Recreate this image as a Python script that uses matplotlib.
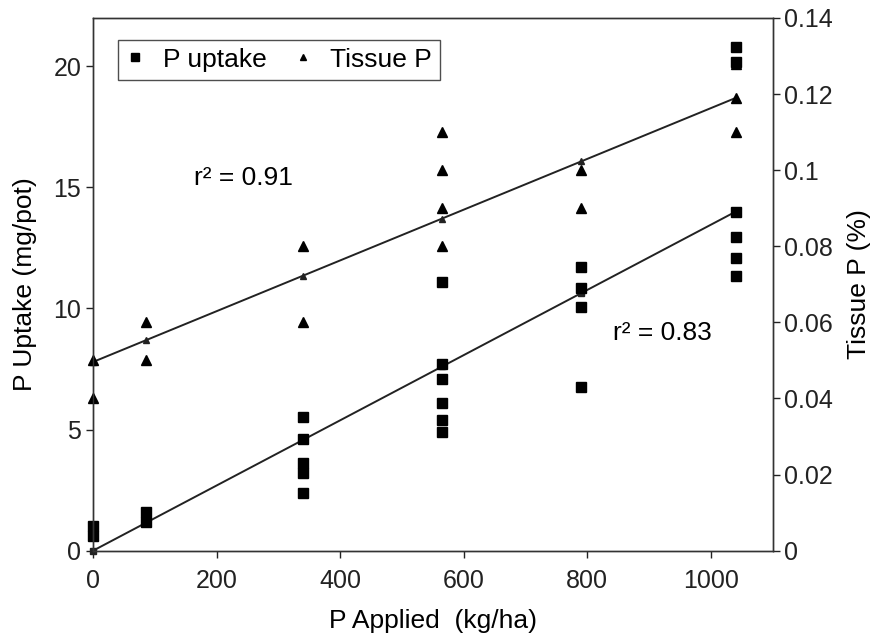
import numpy as np
import matplotlib.pyplot as plt

plt.rcParams['font.family'] = ['Liberation Sans', 'DejaVu Sans']

# P uptake (mg/pot) vs P applied (kg/ha)
uptake_x = [0, 0, 85, 85,
            340, 340, 340, 340, 340,
            565, 565, 565, 565, 565, 565,
            790, 790, 790, 790,
            1040, 1040, 1040, 1040, 1040, 1040]
uptake_y = [1.0, 0.6, 1.6, 1.2,
            5.5, 4.6, 3.6, 3.2, 2.4,
            11.1, 7.7, 7.1, 6.1, 5.4, 4.9,
            11.7, 10.85, 10.05, 6.75,
            20.8, 20.2, 14.0, 12.95, 12.1, 11.35]

# Tissue P (%) vs P applied (kg/ha)
tissue_x = [0, 0, 85, 85,
            340, 340,
            565, 565, 565, 565,
            790, 790,
            1040, 1040, 1040]
tissue_y = [0.05, 0.04, 0.06, 0.05,
            0.08, 0.06,
            0.11, 0.10, 0.09, 0.08,
            0.10, 0.09,
            0.128, 0.119, 0.11]

# regression lines (slope, intercept)
uptake_fit = (0.01346, 0.0)
tissue_fit = (6.67e-5, 0.0496)
fit_x = np.array([0, 85, 340, 565, 790, 1040])

fig = plt.figure(figsize=(8.79, 6.41), dpi=100)
ax = fig.add_axes([0.106, 0.141, 0.773, 0.831])
ax2 = ax.twinx()

tick_fs = 18
lab_fs = 19
ax.plot(fit_x, uptake_fit[0] * fit_x + uptake_fit[1], color='#222222', lw=1.4,
        marker='s', ms=4, zorder=2, clip_on=False)
ax2.plot(fit_x, tissue_fit[0] * fit_x + tissue_fit[1], color='#222222', lw=1.4,
         marker='^', ms=4, zorder=2, clip_on=False)

sq, = ax.plot(uptake_x, uptake_y, 's', color='black', ms=7, ls='none',
              label='P uptake', clip_on=False)
tr, = ax2.plot(tissue_x, tissue_y, '^', color='black', ms=6.5, ls='none',
               label='Tissue P', clip_on=False)

ax.set_xlim(0, 1100)
ax.set_ylim(0, 22)
ax2.set_ylim(0, 0.14)
ax.set_xticks([0, 200, 400, 600, 800, 1000])
ax.set_yticks([0, 5, 10, 15, 20])
ax2.set_yticks([0, 0.02, 0.04, 0.06, 0.08, 0.1, 0.12, 0.14])
ax2.set_yticklabels(['0', '0.02', '0.04', '0.06', '0.08', '0.1', '0.12', '0.14'])

for a in (ax, ax2):
    a.tick_params(direction='out', length=5, width=1, labelsize=tick_fs, colors='#222222')
    for s in a.spines.values():
        s.set_color('#333333')
        s.set_linewidth(1.0)
ax.tick_params(axis='x', pad=8)

ax.set_xlabel('P Applied  (kg/ha)', fontsize=lab_fs, labelpad=12)
ax.set_ylabel('P Uptake (mg/pot)', fontsize=lab_fs, labelpad=12)
ax2.set_ylabel('Tissue P (%)', fontsize=lab_fs, labelpad=10)

ax.text(243, 15.4, 'r² = 0.91', fontsize=lab_fs, ha='center', va='center')
ax.text(921, 9.0, 'r² = 0.83', fontsize=lab_fs, ha='center', va='center')

leg = ax.legend(handles=[sq, tr], loc='upper left', ncol=2, fontsize=lab_fs,
                bbox_to_anchor=(0.037, 0.959), borderaxespad=0, frameon=True,
                fancybox=False, handlelength=0.7, handletextpad=0.7,
                columnspacing=1.0, borderpad=0.3, markerscale=0.75)
leg.get_frame().set_edgecolor('#222222')
leg.get_frame().set_linewidth(1.0)

fig.savefig('out.png', dpi=100)
